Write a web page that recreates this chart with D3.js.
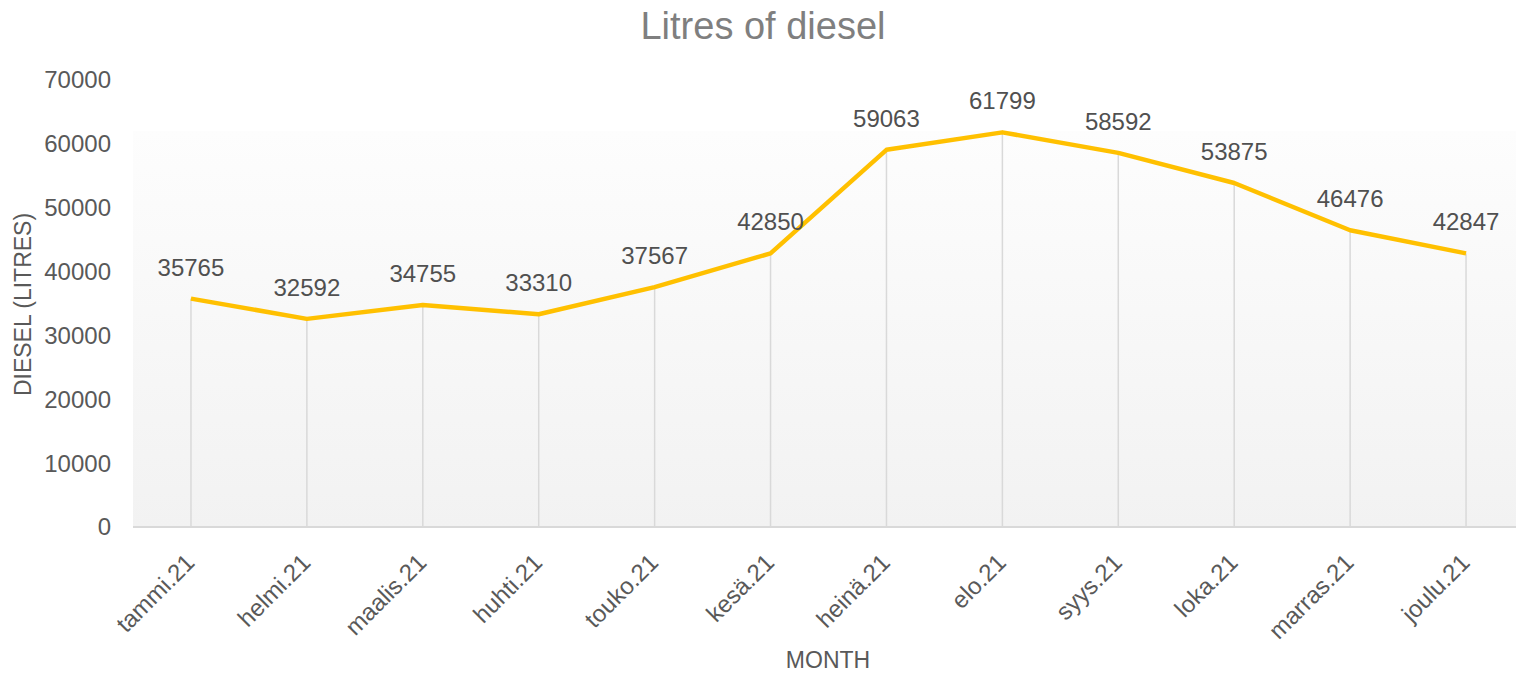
<!DOCTYPE html>
<meta charset="utf-8">
<style>
body { margin: 0; background: #fff; }
svg { font-family: "Liberation Sans", Arial, sans-serif; }
.tick-label { fill: #595959; font-size: 24px; }
.data-label { fill: #505050; font-size: 24px; }
.axis-title { fill: #595959; font-size: 23px; }
.title { fill: #7f7f7f; font-size: 38px; }
.line { fill: none; stroke: #ffc000; stroke-width: 4.5px; stroke-linejoin: round; }
.drop { stroke: #d9d9d9; stroke-width: 1.5px; }
</style>
<svg width="1516" height="674"></svg>
<script src="https://cdn.jsdelivr.net/npm/d3@7"></script>
<script>
// months (finnish short names) and litres per month
var months = ["tammi.21", "helmi.21", "maalis.21", "huhti.21", "touko.21", "kesä.21",
              "heinä.21", "elo.21", "syys.21", "loka.21", "marras.21", "joulu.21"];
var litres = [35765, 32592, 34755, 33310, 37567, 42850, 59063, 61799, 58592, 53875, 46476, 42847];
var yTicks = [0, 10000, 20000, 30000, 40000, 50000, 60000, 70000];

var svg = d3.select("svg"),
    margin = {top: 80, right: 0, bottom: 147, left: 133},
    width = 1524 - margin.left,
    height = 527 - margin.top,
    g = svg.append("g").attr("transform", "translate(" + margin.left + "," + margin.top + ")");

var x = d3.scaleBand()
    .domain(months)
    .range([0, width]);

var y = d3.scaleLinear()
    .domain([0, 70000])
    .range([height, 0]);

// plot area background, light gradient
var grad = svg.append("defs").append("linearGradient")
    .attr("id", "bg").attr("x1", 0).attr("y1", 0).attr("x2", 0).attr("y2", 1);
grad.append("stop").attr("offset", "0%").attr("stop-color", "#fdfdfd");
grad.append("stop").attr("offset", "100%").attr("stop-color", "#f2f2f2");

g.append("rect")
    .attr("x", 0)
    .attr("y", y(62000))
    .attr("width", width)
    .attr("height", height - y(62000))
    .attr("fill", "url(#bg)");

// drop lines
g.selectAll(".drop")
    .data(litres)
  .enter().append("line")
    .attr("class", "drop")
    .attr("x1", function(d, i) { return x(months[i]) + x.bandwidth() / 2; })
    .attr("x2", function(d, i) { return x(months[i]) + x.bandwidth() / 2; })
    .attr("y1", function(d) { return y(d); })
    .attr("y2", height);

// x axis line
g.append("line")
    .attr("x1", 0).attr("x2", width)
    .attr("y1", height).attr("y2", height)
    .attr("stroke", "#d9d9d9").attr("stroke-width", 2);

// y tick labels
g.selectAll(".ytick")
    .data(yTicks)
  .enter().append("text")
    .attr("class", "tick-label")
    .attr("x", -22)
    .attr("y", function(d) { return y(d); })
    .attr("dy", "0.35em")
    .attr("text-anchor", "end")
    .text(function(d) { return d; });

// x tick labels, rotated
g.selectAll(".xtick")
    .data(months)
  .enter().append("text")
    .attr("class", "tick-label")
    .attr("text-anchor", "end")
    .attr("dy", "0.71em")
    .attr("transform", function(d) {
      return "translate(" + (x(d) + x.bandwidth() / 2 - 7) + "," + (height + 25) + ") rotate(-45)";
    })
    .text(function(d) { return d; });

var line = d3.line()
    .x(function(d, i) { return x(months[i]) + x.bandwidth() / 2; })
    .y(function(d) { return y(d); });

g.append("path")
    .datum(litres)
    .attr("class", "line")
    .attr("d", line);

// value labels
g.selectAll(".data-label")
    .data(litres)
  .enter().append("text")
    .attr("class", "data-label")
    .attr("x", function(d, i) { return x(months[i]) + x.bandwidth() / 2; })
    .attr("y", function(d) { return y(d) - 23; })
    .attr("text-anchor", "middle")
    .text(function(d) { return d; });

// titles
svg.append("text")
    .attr("class", "title")
    .attr("x", 763)
    .attr("y", 39)
    .attr("text-anchor", "middle")
    .text("Litres of diesel");

svg.append("text")
    .attr("class", "axis-title")
    .attr("x", 828)
    .attr("y", 668)
    .attr("text-anchor", "middle")
    .text("MONTH");

svg.append("text")
    .attr("class", "axis-title")
    .attr("transform", "translate(31," + (margin.top + height / 2 + 1) + ") rotate(-90)")
    .attr("text-anchor", "middle")
    .text("DIESEL (LITRES)");
</script>
